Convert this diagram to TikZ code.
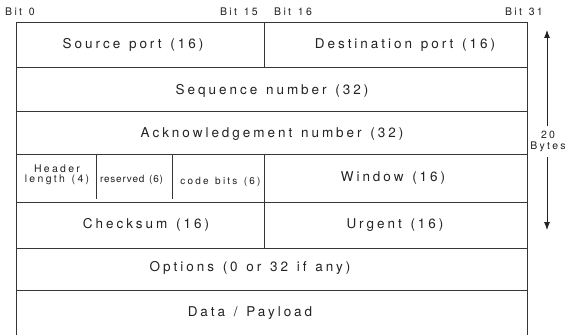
\documentclass[tikz,border=0pt]{standalone}
\usepackage{fontspec}
\setmainfont{TeX Gyre Heros}[LetterSpace=22, WordSpace=1.3]
\usetikzlibrary{arrows.meta}
\definecolor{hdrink}{HTML}{222222}
\definecolor{hdrrule}{HTML}{363636}
\tikzset{
  hdr rule/.style={draw=hdrrule, line width=0.9pt},
  hdr field/.style={font=\fontsize{13.5}{15}\selectfont, text=hdrink,
    inner sep=0pt},
  hdr small/.style={font=\fontsize{10}{12}\selectfont, text=hdrink,
    inner sep=0pt},
  bit label/.style={font=\fontsize{10.5}{12}\selectfont, text=hdrink,
    inner sep=0pt},
  size arrow/.style={draw=hdrink, line width=0.8pt,
    -{Latex[length=8pt, width=6pt]}},
}

\begin{document}
\begin{tikzpicture}[x=1pt, y=1pt]
  \useasboundingbox (0,0) rectangle (569,335);

  % Bit positions above the header.
  \node[bit label, anchor=west] (bit0) at (5,323) {Bit 0};
  \node[bit label, anchor=east] (bit15) at (258,323) {Bit 15};
  \node[bit label, anchor=west] (bit16) at (274,323) {Bit 16};
  \node[bit label, anchor=east] (bit31) at (543,323) {Bit 31};

  % Frame and row rules; the payload row stays open at the bottom.
  \draw[hdr rule] (16,0) -- (16,313) -- (527,313) -- (527,0);
  \foreach \y in {268,224,181,133,87,45}
    \draw[hdr rule] (16,\y) -- (527,\y);
  \draw[hdr rule] (264,313) -- (264,268);
  \draw[hdr rule] (264,181) -- (264,87);
  \draw[hdr rule] (96,181) -- (96,136);
  \draw[hdr rule] (172,181) -- (172,136);

  % Field names, one row of 32 bits at a time.
  \node[hdr field] (srcport) at (133,290) {Source port (16)};
  \node[hdr field] (dstport) at (405,290) {Destination port (16)};
  \node[hdr field] (seqnum) at (272,244) {Sequence number (32)};
  \node[hdr field] (acknum) at (272,201) {Acknowledgement number (32)};
  \node[bit label, align=center] (hdrlen) at (57,160)
    {Header\\[-2pt]length (4)};
  \node[hdr small, font=\fontsize{10}{12}\selectfont\addfontfeature{LetterSpace=8}]
    (reserved) at (131.5,155) {reserved (6)};
  \node[hdr small] (codebits) at (220.5,153) {code bits (6)};
  \node[hdr field] (window) at (393,157) {Window (16)};
  \node[hdr field] (checksum) at (146,110) {Checksum (16)};
  \node[hdr field] (urgent) at (395,110) {Urgent (16)};
  \node[hdr field] (options) at (250,67) {Options (0 or 32 if any)};
  \node[hdr field] (payload) at (250,22) {Data / Payload};

  % Size of the fixed part.
  \node[bit label, align=center, inner sep=5pt] (bytes) at (548,193.5)
    {20\\[-1pt]Bytes};
  \coordinate (sizetop) at (547,305);
  \coordinate (sizebot) at (547,105);
  \draw[size arrow] (bytes.north -| sizetop) -- (sizetop);
  \draw[size arrow] (bytes.south -| sizebot) -- (sizebot);
\end{tikzpicture}
\end{document}
